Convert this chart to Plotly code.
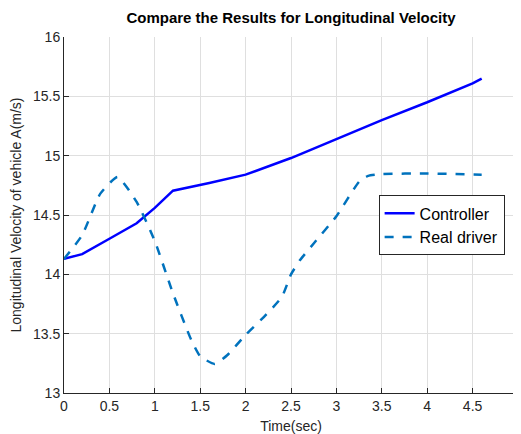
import plotly.graph_objs as go

# Controller trajectory
t_ctrl = [0, 0.2, 0.5, 0.8, 1.0, 1.2, 1.6, 2.0, 2.5, 3.0, 3.5, 4.0, 4.5, 4.6]
v_ctrl = [14.13, 14.17, 14.30, 14.43, 14.56, 14.705, 14.77, 14.84, 14.98, 15.14, 15.30, 15.45, 15.61, 15.65]

# Real driver trajectory
t_real = [0, 0.2, 0.4, 0.59, 0.8, 1.0, 1.2, 1.4, 1.5, 1.66, 1.8, 2.0, 2.2, 2.4, 2.5, 2.6,
          2.75, 3.0, 3.25, 3.35, 3.5, 4.0, 4.6]
v_real = [14.13, 14.33, 14.68, 14.82, 14.61, 14.28, 13.84, 13.45, 13.31, 13.245, 13.32, 13.49,
          13.64, 13.81, 14.0, 14.12, 14.26, 14.49, 14.78, 14.83, 14.845, 14.85, 14.84]

series_names = ["Controller", "Real driver"]

font_fam = "Liberation Sans, Arial, sans-serif"

fig = go.Figure()
fig.add_trace(go.Scatter(x=t_ctrl, y=v_ctrl, name=series_names[0], mode="lines",
                         line=dict(color="#0000ff", width=2.5)))
fig.add_trace(go.Scatter(x=t_real, y=v_real, name=series_names[1], mode="lines",
                         line=dict(color="#0072bd", width=2.5, dash="dash", shape="spline", smoothing=0.5)))

axis_common = dict(showgrid=True, gridcolor="#dfdfdf", gridwidth=1,
                   showline=True, linecolor="#262626", linewidth=1,
                   ticks="inside", ticklen=5, tickcolor="#262626",
                   tickfont=dict(size=14, color="#262626", family=font_fam),
                   zeroline=False, mirror=False, automargin=False)

# the page body adds an 8px offset, so the figure is 8px smaller on each side
fig.update_layout(
    width=513, height=426,
    margin=dict(l=56, r=3, t=29, b=41),
    paper_bgcolor="white", plot_bgcolor="white",
    font=dict(family=font_fam, color="#262626"),
    title=dict(text="<b>Compare the Results for Longitudinal Velocity</b>",
               x=0.5, xanchor="center", xref="paper", y=0.977, yanchor="middle",
               font=dict(size=15, color="black", family=font_fam)),
    xaxis=dict(range=[0, 5], dtick=0.5,
               title=dict(text="Time(sec)", font=dict(size=14, family=font_fam), standoff=14),
               **axis_common),
    yaxis=dict(range=[13, 16], dtick=0.5,
               title=dict(text="Longitudinal Velocity of vehicle A(m/s)",
                          font=dict(size=14, family=font_fam), standoff=9),
               **axis_common),
    legend=dict(x=0.693, xanchor="left", y=0.555, yanchor="top",
                bgcolor="white", bordercolor="#262626", borderwidth=1,
                font=dict(size=16, color="black", family=font_fam),
                tracegroupgap=0, itemwidth=30),
    showlegend=True,
)

fig.write_html("out.html")
